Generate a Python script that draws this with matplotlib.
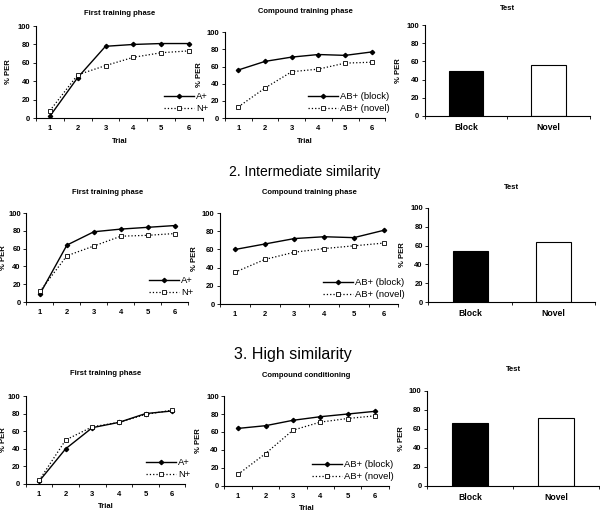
import matplotlib
matplotlib.use("Agg")
import matplotlib.pyplot as plt

plt.rcParams['font.family'] = ['Liberation Sans', 'DejaVu Sans']

trials = [1, 2, 3, 4, 5, 6]
bar_labels = ["Block", "Novel"]

# low similarity (row 1)
low_first_a = [2, 44, 78, 80, 81, 81]
low_first_n = [8, 47, 57, 66, 71, 73]
low_comp_block = [56, 66, 71, 74, 73, 77]
low_comp_novel = [13, 35, 54, 57, 64, 65]
low_test = [49, 56]

# intermediate similarity (row 2)
mid_first_a = [9, 64, 79, 82, 84, 86]
mid_first_n = [12, 52, 63, 74, 75, 77]
mid_comp_block = [60, 66, 72, 74, 73, 81]
mid_comp_novel = [35, 49, 57, 61, 64, 67]
mid_test = [54, 64]

# high similarity (row 3)
high_first_a = [3, 40, 64, 70, 80, 83]
high_first_n = [4, 50, 65, 70, 79, 84]
high_comp_block = [64, 67, 73, 77, 80, 83]
high_comp_novel = [13, 36, 62, 71, 75, 78]
high_test = [66, 72]

fig = plt.figure(figsize=(6, 5.11), dpi=100)


def style_axes(ax, title, pad, lpad):
    for s in ["top", "right"]:
        ax.spines[s].set_visible(False)
    for s in ["left", "bottom"]:
        ax.spines[s].set_linewidth(0.8)
    ax.set_ylim(0, 100)
    ax.set_yticks([0, 20, 40, 60, 80, 100])
    ax.tick_params(axis="y", labelsize=5.5, length=2, width=0.6, pad=2)
    for lab in ax.get_yticklabels():
        lab.set_fontweight("bold")
    ax.set_ylabel("% PER", fontsize=5.5, fontweight="bold", labelpad=lpad)
    ax.set_title(title, fontsize=5.5, fontweight="bold", pad=pad)


def line_panel(rect, title, y1, y2, names, trial_label, pad=10, lpad=3):
    ax = fig.add_axes(rect)
    ax.plot(trials, y1, color="black", lw=1.0, marker="D", ms=2.2, label=names[0])
    ax.plot(trials, y2, color="black", lw=0.9, ls=":", marker="s", ms=3,
            mfc="white", mew=0.6, label=names[1])
    ax.set_xlim(0.5, 6.5)
    style_axes(ax, title, pad, lpad)
    ax.set_xticks(trials)
    ax.set_xticklabels([str(t) for t in trials])
    ax.set_xticks([0.5 + i for i in range(7)], minor=True)
    ax.tick_params(axis="x", which="major", length=0, labelsize=5.5, pad=5)
    ax.tick_params(axis="x", which="minor", length=2, width=0.6)
    for lab in ax.get_xticklabels():
        lab.set_fontweight("bold")
    if trial_label:
        ax.set_xlabel("Trial", fontsize=5.5, fontweight="bold", labelpad=4)
    ax.legend(loc="lower right", frameon=False, fontsize=6.8, handlelength=3.2,
              handletextpad=0.2, labelspacing=0.3, borderaxespad=0.1,
              bbox_to_anchor=(1.06, 0.0))
    return ax


def bar_panel(rect, title, vals, pad=10, lpad=3):
    ax = fig.add_axes(rect)
    ax.bar([1, 2], vals, width=0.42, color=["black", "white"],
           edgecolor="black", linewidth=0.8)
    ax.set_xlim(0.5, 2.5)
    style_axes(ax, title, pad, lpad)
    ax.set_xticks([1, 2])
    ax.set_xticklabels(bar_labels)
    ax.set_xticks([0.5, 1.5, 2.5], minor=True)
    ax.tick_params(axis="x", which="major", length=0, labelsize=6.2, pad=5)
    ax.tick_params(axis="x", which="minor", length=2, width=0.6)
    for lab in ax.get_xticklabels():
        lab.set_fontweight("bold")
    return ax


ab_names = ["AB+ (block)", "AB+ (novel)"]
an_names = ["A+", "N+"]

# row 1
line_panel([0.060, 0.769, 0.278, 0.180], "First training phase",
           low_first_a, low_first_n, an_names, True, pad=8, lpad=4)
line_panel([0.375, 0.769, 0.267, 0.168], "Compound training phase",
           low_comp_block, low_comp_novel, ab_names, True, pad=14)
bar_panel([0.708, 0.773, 0.275, 0.178], "Test", low_test, pad=11)

# row 2
fig.text(0.508, 1 - 172 / 511, "2. Intermediate similarity", ha="center",
         va="center", fontsize=10)
line_panel([0.044, 0.409, 0.270, 0.174], "First training phase",
           mid_first_a, mid_first_n, an_names, False, pad=14, lpad=0.5)
line_panel([0.367, 0.405, 0.297, 0.178], "Compound training phase",
           mid_comp_block, mid_comp_novel, ab_names, False, pad=14)
bar_panel([0.714, 0.409, 0.278, 0.184], "Test", mid_test, pad=14)

# row 3
fig.text(0.488, 1 - 354 / 511, "3. High similarity", ha="center",
         va="center", fontsize=11.5)
line_panel([0.043, 0.053, 0.266, 0.172], "First training phase",
           high_first_a, high_first_n, an_names, True, pad=15, lpad=0.5)
line_panel([0.374, 0.049, 0.274, 0.176], "Compound conditioning",
           high_comp_block, high_comp_novel, ab_names, True, pad=14)
bar_panel([0.712, 0.049, 0.287, 0.186], "Test", high_test, pad=14)

fig.savefig("out.png", dpi=100, facecolor="white")
